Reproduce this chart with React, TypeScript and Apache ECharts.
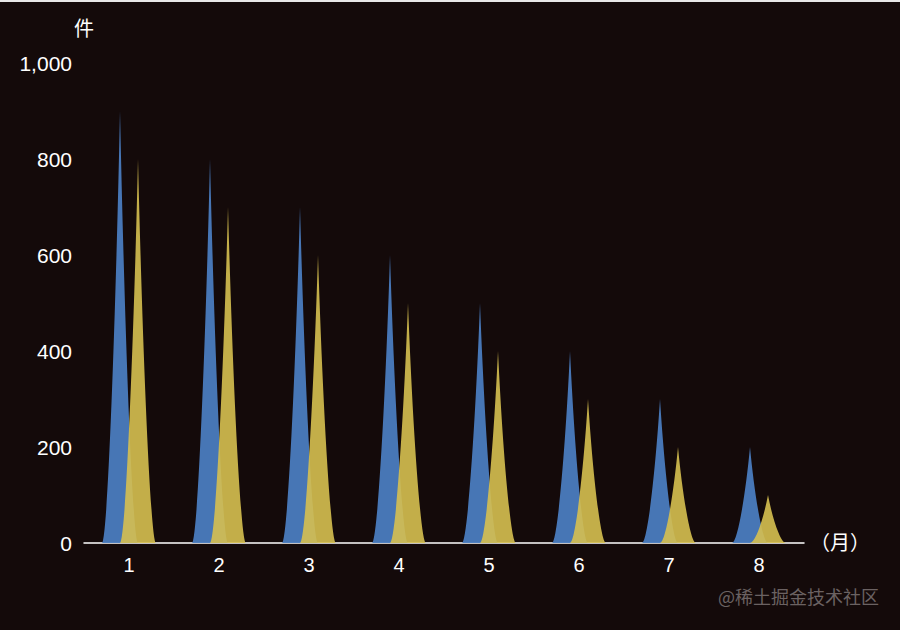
import React, { useEffect, useRef } from "react";
import * as echarts from "echarts";

const categories = ["1", "2", "3", "4", "5", "6", "7", "8"];
const seriesA = [900, 800, 700, 600, 500, 400, 300, 200];
const seriesB = [800, 700, 600, 500, 400, 300, 200, 100];
const yTicks = { min: 0, max: 1000, interval: 200 };

const spike = "path://M0,10 L10,10 C8.5,10 6.25,5 5,0 C3.75,5 1.5,10 0,10 z";
const FONT = "'Liberation Sans', 'Noto Sans CJK SC', sans-serif";

export default function App() {
  const ref = useRef<HTMLDivElement>(null);
  useEffect(() => {
    const chart = echarts.init(ref.current!, null, { renderer: "svg" });
    chart.setOption({
      animation: false,
      backgroundColor: "#140a0a",
      textStyle: { fontFamily: FONT },
      grid: { left: 84, right: 96, top: 63, bottom: 87 },
      graphic: [
        { type: "rect", left: 0, top: 0, shape: { width: 900, height: 2 }, style: { fill: "#e8e8e8" } },
        {
          type: "text",
          left: 718,
          top: 587,
          style: { text: "@稀土掘金技术社区", fill: "#6b6262", font: `18px 'Noto Sans CJK SC', sans-serif` },
        },
      ],
      xAxis: {
        type: "category",
        data: categories,
        name: "（月）",
        nameLocation: "end",
        nameGap: 6,
        nameTextStyle: { color: "#ffffff", fontSize: 20, fontFamily: FONT },
        axisLine: { show: true, lineStyle: { color: "#ffffff", width: 1.5 } },
        axisTick: { show: false },
        axisLabel: { color: "#ffffff", fontSize: 20, margin: 12, fontFamily: FONT },
        splitLine: { show: false },
      },
      yAxis: {
        type: "value",
        min: yTicks.min,
        max: yTicks.max,
        interval: yTicks.interval,
        name: "件",
        nameLocation: "end",
        nameGap: 24,
        nameTextStyle: { color: "#ffffff", fontSize: 20, align: "center", fontFamily: FONT },
        axisLine: { show: false },
        axisTick: { show: false },
        splitLine: { show: false },
        axisLabel: {
          color: "#ffffff",
          fontSize: 21,
          margin: 12,
          fontFamily: FONT,
          formatter: (v: number) => v.toLocaleString("en-US"),
        },
      },
      series: [
        {
          type: "pictorialBar",
          symbol: spike,
          barWidth: 36,
          barGap: "-50%",
          data: seriesA,
          itemStyle: { color: "#4a7cbf", opacity: 0.95 },
        },
        {
          type: "pictorialBar",
          symbol: spike,
          barWidth: 36,
          barGap: "-50%",
          data: seriesB,
          itemStyle: { color: "#d6c050", opacity: 0.9 },
        },
      ],
    });
    return () => chart.dispose();
  }, []);
  return <div ref={ref} style={{ position: "absolute", left: 0, top: 0, width: 900, height: 630 }} />;
}
